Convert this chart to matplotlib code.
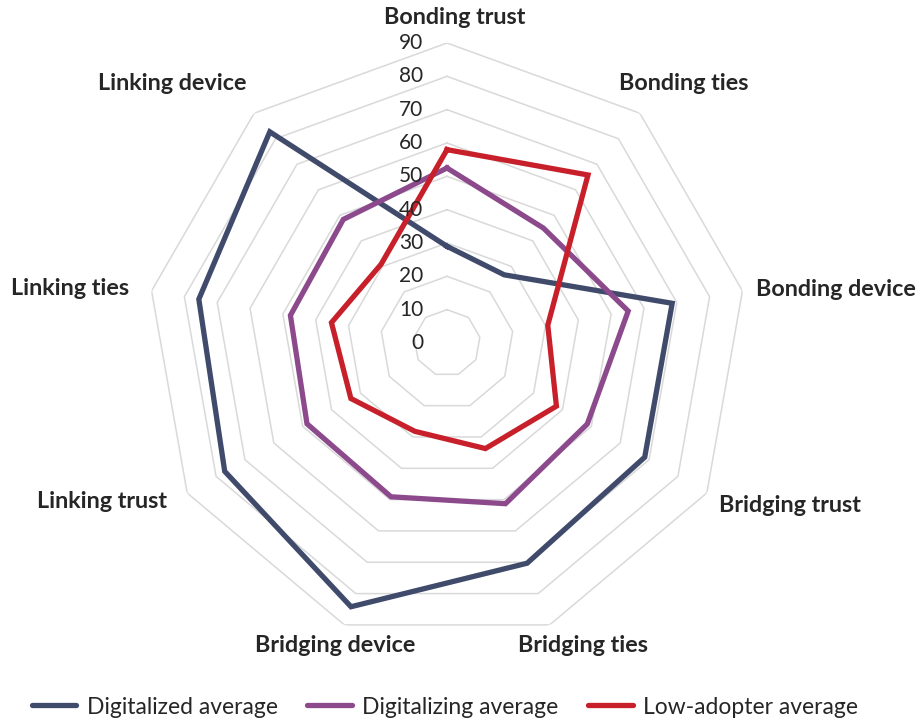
import numpy as np
import matplotlib
matplotlib.use("Agg")
import matplotlib.pyplot as plt
from matplotlib.lines import Line2D

plt.rcParams['font.family'] = ['Lato', 'DejaVu Sans']

categories = ["Bonding trust", "Bonding ties", "Bonding device", "Bridging trust",
              "Bridging ties", "Bridging device", "Linking trust", "Linking ties",
              "Linking device"]
digitalized = [29, 26.7, 68.6, 68.5, 70.3, 84.2, 77, 75.6, 82.7]
digitalizing = [52.5, 45, 55.2, 48.6, 51.3, 49.1, 48.5, 47.7, 48.4]
low_adopter = [58, 65.8, 30.7, 37.9, 33.7, 28.2, 33.3, 35.2, 30.8]
series_names = ["Digitalized average", "Digitalizing average", "Low-adopter average"]
radial_ticks = [0, 10, 20, 30, 40, 50, 60, 70, 80, 90]

colors = ["#404A6B", "#8C4A8D", "#C8202A"]
grid_color = "#D9D9D9"
text_color = "#262626"

W, H = 921, 724
fig = plt.figure(figsize=(W / 100, H / 100), dpi=100)
cx, cy, R = 447, 343, 300
ax = fig.add_axes([(cx - R) / W, (H - cy - R) / H, 2 * R / W, 2 * R / H], projection='polar')
ax.set_theta_zero_location('N')
ax.set_theta_direction(-1)
ax.set_ylim(0, 90)
ax.grid(False)
ax.set_xticks([])
ax.set_yticks([])
ax.spines['polar'].set_visible(False)
ax.patch.set_visible(False)

n = len(categories)
angles = np.linspace(0, 2 * np.pi, n, endpoint=False)
closed = np.concatenate([angles, angles[:1]])

for r in radial_ticks[1:]:
    ax.plot(closed, [r] * (n + 1), color=grid_color, lw=1.1, zorder=1)

for v in radial_ticks:
    ax.annotate(str(v), xy=(0, v), xytext=(-17, 0), textcoords='offset points',
                ha='right', va='center', fontsize=15, color=text_color, zorder=5)

for vals, c in zip([digitalized, digitalizing, low_adopter], colors):
    ax.plot(closed, list(vals) + [vals[0]], color=c, lw=3.8, zorder=3,
            solid_joinstyle='miter')

label_pos = [(455, 17), (684, 84), (836, 290), (790, 505), (583, 645),
             (335, 645), (102, 502), (70, 289), (172, 84)]
for name, (x, y) in zip(categories, label_pos):
    fig.text(x / W, 1 - y / H, name, ha='center', va='center', fontsize=16.8,
             fontweight='bold', color=text_color)

handles = [Line2D([0], [0], color=c, lw=3.8, solid_capstyle='round') for c in colors]
fig.legend(handles, series_names, loc='center', bbox_to_anchor=(445 / W, 1 - 707 / H),
           ncol=3, frameon=False, fontsize=16.5, handlelength=1.95, columnspacing=1.3,
           handletextpad=0.45, labelcolor=text_color)

fig.savefig("out.png", dpi=100)
